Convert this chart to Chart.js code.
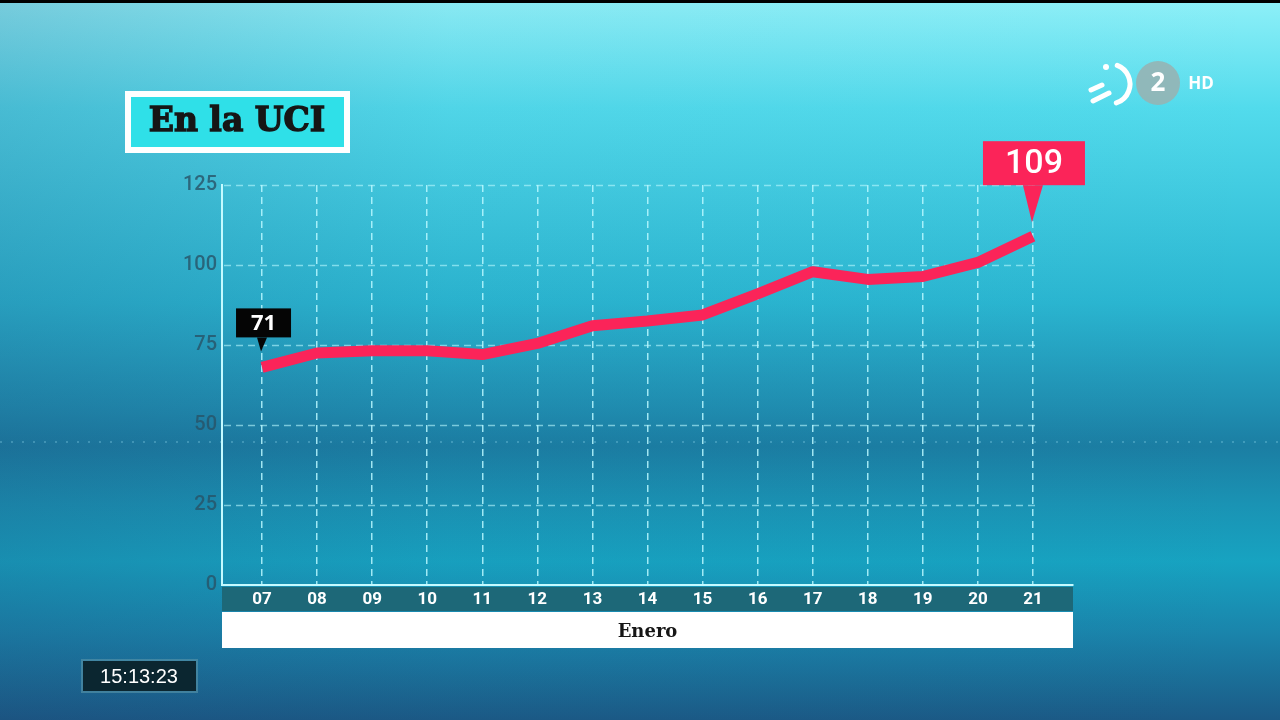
<!DOCTYPE html>
<html>
<head>
<meta charset="utf-8">
<script src="https://cdn.jsdelivr.net/npm/chart.js@4.4.0/dist/chart.umd.min.js"></script>
<style>
html, body { margin: 0; padding: 0; width: 1280px; height: 720px; overflow: hidden; background: #1b6f95; }
#grafica { display: block; }
</style>
</head>
<body>
<canvas id="grafica" width="1280" height="720"></canvas>
<script>
// datos
const dias = ['07', '08', '09', '10', '11', '12', '13', '14', '15', '16', '17', '18', '19', '20', '21']
const enUci = [68, 72.5, 73.2, 73.2, 72, 75.5, 81, 82.5, 84.4, 91, 97.9, 95.5, 96.4, 100.8, 109]
const marcasY = [0, 25, 50, 75, 100, 125]
const destacados = [0, 14]
const destacadosTexto = ['71', '109']
const titulo = 'En la UCI'
const mes = 'Enero'
const hora = '15:13:23'

const colorLinea = '#fb2459'
const colorRejilla = 'rgba(185, 248, 255, 0.85)'

const dibujarFondo = (ctx, w, h) => {
    const g = ctx.createLinearGradient(0, 0, 0, h)
    g.addColorStop(0, '#8ef0f8')
    g.addColorStop(0.15, '#52dbec')
    g.addColorStop(0.42, '#2ab6d1')
    g.addColorStop(0.57, '#1f8db0')
    g.addColorStop(0.62, '#1b7ea3')
    g.addColorStop(0.7, '#1a93b4')
    g.addColorStop(0.78, '#17a3c1')
    g.addColorStop(0.88, '#1a84ab')
    g.addColorStop(1, '#1b5a86')
    ctx.fillStyle = g
    ctx.fillRect(0, 0, w, h)

    // sombra lateral izquierda
    const l = ctx.createLinearGradient(0, 0, w, 0)
    l.addColorStop(0, 'rgba(30, 60, 110, 0.2)')
    l.addColorStop(0.35, 'rgba(30, 60, 110, 0.04)')
    l.addColorStop(1, 'rgba(30, 60, 110, 0)')
    ctx.fillStyle = l
    ctx.fillRect(0, 0, w, h)

    // linea de puntos del horizonte
    ctx.save()
    ctx.strokeStyle = 'rgba(170, 240, 255, 0.25)'
    ctx.lineWidth = 2
    ctx.setLineDash([2, 9])
    ctx.beginPath()
    ctx.moveTo(0, 442)
    ctx.lineTo(w, 442)
    ctx.stroke()
    ctx.restore()

    ctx.fillStyle = '#000'
    ctx.fillRect(0, 0, w, 3)
}

const dibujarTitulo = (ctx) => {
    ctx.fillStyle = '#ffffff'
    ctx.fillRect(125, 91, 225, 62)
    ctx.fillStyle = '#2fe0e8'
    ctx.fillRect(131, 97, 213, 50)
    ctx.fillStyle = '#161616'
    ctx.strokeStyle = '#161616'
    ctx.lineWidth = 1.4
    ctx.font = 'bold 33px "DejaVu Serif"'
    ctx.textAlign = 'center'
    ctx.textBaseline = 'middle'
    ctx.fillText(titulo, 237, 122)
    ctx.strokeText(titulo, 237, 122)
}

const dibujarLogo = (ctx) => {
    ctx.save()
    ctx.strokeStyle = '#ffffff'
    ctx.lineCap = 'round'
    ctx.lineWidth = 5
    ctx.beginPath()
    ctx.arc(1110, 84, 20, -1.2, 1.25)
    ctx.stroke()
    ctx.beginPath()
    ctx.moveTo(1091, 90); ctx.lineTo(1102, 85)
    ctx.moveTo(1093, 101); ctx.lineTo(1109, 93)
    ctx.stroke()
    ctx.fillStyle = '#ffffff'
    ctx.beginPath()
    ctx.arc(1106, 67, 3, 0, Math.PI * 2)
    ctx.fill()
    ctx.fillStyle = 'rgba(150, 180, 180, 0.9)'
    ctx.beginPath()
    ctx.arc(1158, 83, 22, 0, Math.PI * 2)
    ctx.fill()
    ctx.fillStyle = '#ffffff'
    ctx.textAlign = 'center'
    ctx.textBaseline = 'middle'
    ctx.font = 'bold 26px "Open Sans"'
    ctx.fillText('2', 1158, 84)
    ctx.font = 'bold 17px "Open Sans"'
    ctx.fillText('HD', 1201, 84)
    ctx.restore()
}

const dibujarReloj = (ctx) => {
    ctx.fillStyle = 'rgba(90, 150, 170, 0.6)'
    ctx.fillRect(81, 659, 117, 34)
    ctx.fillStyle = '#0b2630'
    ctx.fillRect(83, 661, 113, 30)
    ctx.fillStyle = '#ffffff'
    ctx.font = '20px "Liberation Sans"'
    ctx.textAlign = 'center'
    ctx.textBaseline = 'middle'
    ctx.fillText(hora, 139, 677)
}

const decorado = {
    id: 'decorado',
    beforeDraw(chart) {
        const { ctx, chartArea } = chart
        ctx.save()
        dibujarFondo(ctx, chart.width, chart.height)
        dibujarTitulo(ctx)
        dibujarLogo(ctx)
        dibujarReloj(ctx)
        // franja de dias y caja del mes
        ctx.fillStyle = '#1d6878'
        ctx.fillRect(chartArea.left, chartArea.bottom + 2, chartArea.right - chartArea.left, 24)
        ctx.fillStyle = '#ffffff'
        ctx.fillRect(chartArea.left, chartArea.bottom + 27, chartArea.right - chartArea.left, 36)
        ctx.restore()
    },
    beforeDatasetsDraw(chart) {
        const { ctx, chartArea, scales } = chart
        const fin = scales.x.getPixelForValue(dias.length - 1) + 7
        ctx.save()
        ctx.strokeStyle = 'rgba(185, 248, 255, 0.6)'
        ctx.lineWidth = 1.5
        ctx.setLineDash([7, 5])
        marcasY.forEach(v => {
            if (v === 0) return
            const y = Math.round(scales.y.getPixelForValue(v)) + 0.5
            ctx.beginPath()
            ctx.moveTo(chartArea.left + 2, y)
            ctx.lineTo(fin, y)
            ctx.stroke()
        })
        ctx.restore()
    },
    afterDatasetsDraw(chart) {
        const { ctx } = chart
        const puntos = chart.getDatasetMeta(0).data
        const estilos = [
            { fondo: '#050505', ancho: 55, alto: 29, sep: 30, punta: 16, dx: -26, base: 5, fuente: 'bold 22px "Open Sans"' },
            { fondo: '#fb2459', ancho: 102, alto: 44, sep: 51, punta: 14, dx: -50, base: 10, fuente: '500 34px Roboto' }
        ]
        destacados.forEach((idx, k) => {
            const p = puntos[idx]
            const e = estilos[k]
            const abajo = p.y - e.sep
            const izq = p.x + e.dx
            ctx.save()
            ctx.fillStyle = e.fondo
            ctx.fillRect(izq, abajo - e.alto, e.ancho, e.alto)
            ctx.beginPath()
            ctx.moveTo(p.x - e.base, abajo)
            ctx.lineTo(p.x + e.base, abajo)
            ctx.lineTo(p.x - 1, p.y - e.punta)
            ctx.closePath()
            ctx.fill()
            ctx.fillStyle = '#ffffff'
            ctx.font = e.fuente
            ctx.textAlign = 'center'
            ctx.textBaseline = 'middle'
            ctx.fillText(destacadosTexto[k], izq + e.ancho / 2, abajo - e.alto / 2 + 1)
            ctx.restore()
        })
    }
}

const ctx = document.getElementById('grafica').getContext('2d')

new Chart(ctx, {
    type: 'line',
    data: {
        datasets: [{
            label: titulo,
            data: enUci.map((v, i) => ({ x: i, y: v })),
            borderColor: colorLinea,
            borderWidth: 11,
            borderJoinStyle: 'round',
            borderCapStyle: 'butt',
            pointRadius: 0,
            tension: 0,
            fill: false
        }]
    },
    options: {
        responsive: false,
        animation: false,
        devicePixelRatio: 1,
        layout: { padding: { left: 0, top: 185, right: 207, bottom: 70 } },
        plugins: { legend: { display: false }, tooltip: { enabled: false } },
        scales: {
            x: {
                type: 'linear',
                min: -0.727,
                max: dias.length - 1 + 0.727,
                afterBuildTicks: (scale) => { scale.ticks = dias.map((d, i) => ({ value: i })) },
                afterFit: (scale) => { scale.height = 65 },
                ticks: {
                    autoSkip: false,
                    maxRotation: 0,
                    padding: 5,
                    color: '#ffffff',
                    font: { family: 'Roboto', size: 17, weight: 'bold' },
                    callback: (v) => dias[v]
                },
                grid: { color: colorRejilla, lineWidth: 1.5, drawTicks: false },
                border: { color: '#c4faff', width: 2, dash: [7, 5] },
                title: {
                    display: true,
                    text: mes,
                    color: '#161616',
                    font: { family: '"DejaVu Serif"', size: 18, weight: 'bold' },
                    padding: { top: 0, bottom: 7 }
                }
            },
            y: {
                min: 0,
                max: 125,
                afterBuildTicks: (scale) => { scale.ticks = marcasY.map(v => ({ value: v })) },
                afterFit: (scale) => { scale.width = 222 },
                ticks: {
                    padding: 5,
                    color: 'rgba(40, 82, 102, 0.8)',
                    font: { family: 'Roboto', size: 20, weight: '500' }
                },
                grid: { display: false, drawTicks: false },
                border: { color: '#c4faff', width: 2 }
            }
        }
    },
    plugins: [decorado]
});
</script>
</body>
</html>
